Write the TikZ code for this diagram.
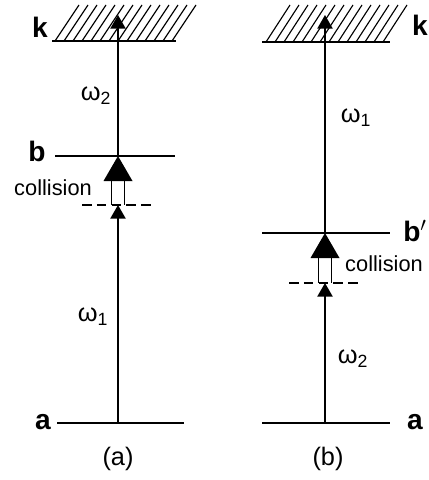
\documentclass[tikz,border=0pt]{standalone}
\usepackage{fontspec}
\setmainfont{Liberation Sans}
\usetikzlibrary{arrows.meta, calc}

\begin{document}
\begin{tikzpicture}[x=0.025cm, y=-0.025cm,
  lvl/.style={line width=1.5pt},
  ph/.style={line width=1.1pt, -{Triangle[length=3.4mm, width=3.8mm]}},
  dsh/.style={line width=1.5pt, dash pattern=on 2.4mm off 1.3mm},
  hatch/.style={line width=0.8pt},
  lab/.style={inner sep=0pt, font=\fontsize{20}{22}\selectfont\bfseries},
  om/.style={inner sep=0pt, font=\fontsize{18}{20}\selectfont},
  txt/.style={inner sep=0pt, font=\fontsize{15.5}{17}\selectfont}]
\useasboundingbox (0,0) rectangle (428,480);

% (a)
\coordinate (ta) at (118,15);
\coordinate (ka) at (118,41);
\coordinate (ba) at (118,156);
\coordinate (da) at (118,205);
\coordinate (aa) at (118,423);
\coordinate (ka-l) at (52,41);  \coordinate (ka-r) at (176,41);
\coordinate (ba-l) at (55,156); \coordinate (ba-r) at (175,156);
\coordinate (da-l) at (82,205); \coordinate (da-r) at (152,205);
\coordinate (aa-l) at (57,423); \coordinate (aa-r) at (184,423);
\foreach \x in {55,64,...,172}
  \draw[hatch] (\x,41) -- (\x+24,5);
\draw[lvl] (ka-l) -- (ka-r);
\draw[lvl] (ba-l) -- (ba-r);
\draw[dsh] (da-l) -- (da-r);
\draw[lvl] (aa-l) -- (aa-r);
\draw[ph] (aa) -- (da);
\draw[ph] (ba) -- (ta);
\fill (ba) -- ++(-14.5,25) -- ++(29,0) -- cycle;
\draw[line width=1.1pt] ($(ba)+(-6.5,25)$) -- ($(da)+(-6.5,0)$)
  ($(ba)+(6.5,25)$) -- ($(da)+(6.5,0)$);
\node[lab] (k1) at (40,27) {k};
\node[lab] (b1) at (37,151) {b};
\node[lab] (a1) at (43,422) {a};
\node[txt] (c1) at (53,188) {collision};
\node[om] (w2a) at (96,96) {ω\textsubscript{2}};
\node[om] (w1a) at (93,317) {ω\textsubscript{1}};
\node[om] (pa) at (118,459) {(a)};

% (b)
\coordinate (tb) at (325,15);
\coordinate (kb) at (325,42);
\coordinate (bb) at (325,233);
\coordinate (db) at (325,283);
\coordinate (ab) at (325,423);
\coordinate (kb-l) at (262,42);  \coordinate (kb-r) at (390,42);
\coordinate (bb-l) at (262,233); \coordinate (bb-r) at (390,233);
\coordinate (db-l) at (289,283); \coordinate (db-r) at (361,283);
\coordinate (ab-l) at (262,423); \coordinate (ab-r) at (390,423);
\foreach \x in {266,275,...,383}
  \draw[hatch] (\x,42) -- (\x+24,5);
\draw[lvl] (kb-l) -- (kb-r);
\draw[lvl] (bb-l) -- (bb-r);
\draw[dsh] (db-l) -- (db-r);
\draw[lvl] (ab-l) -- (ab-r);
\draw[ph] (ab) -- (db);
\draw[ph] (bb) -- (tb);
\fill (bb) -- ++(-14.5,25) -- ++(29,0) -- cycle;
\draw[line width=1.1pt] ($(bb)+(-6.5,25)$) -- ($(db)+(-6.5,0)$)
  ($(bb)+(6.5,25)$) -- ($(db)+(6.5,0)$);
\node[lab] (k2) at (420,25) {k};
\node[lab] (b2) at (415,231) {b$'$};
\node[lab] (a2) at (415,422) {a};
\node[txt] (c2) at (384,264) {collision};
\node[om] (w1b) at (356,118) {ω\textsubscript{1}};
\node[om] (w2b) at (353,359) {ω\textsubscript{2}};
\node[om] (pb) at (328,459) {(b)};
\end{tikzpicture}
\end{document}
